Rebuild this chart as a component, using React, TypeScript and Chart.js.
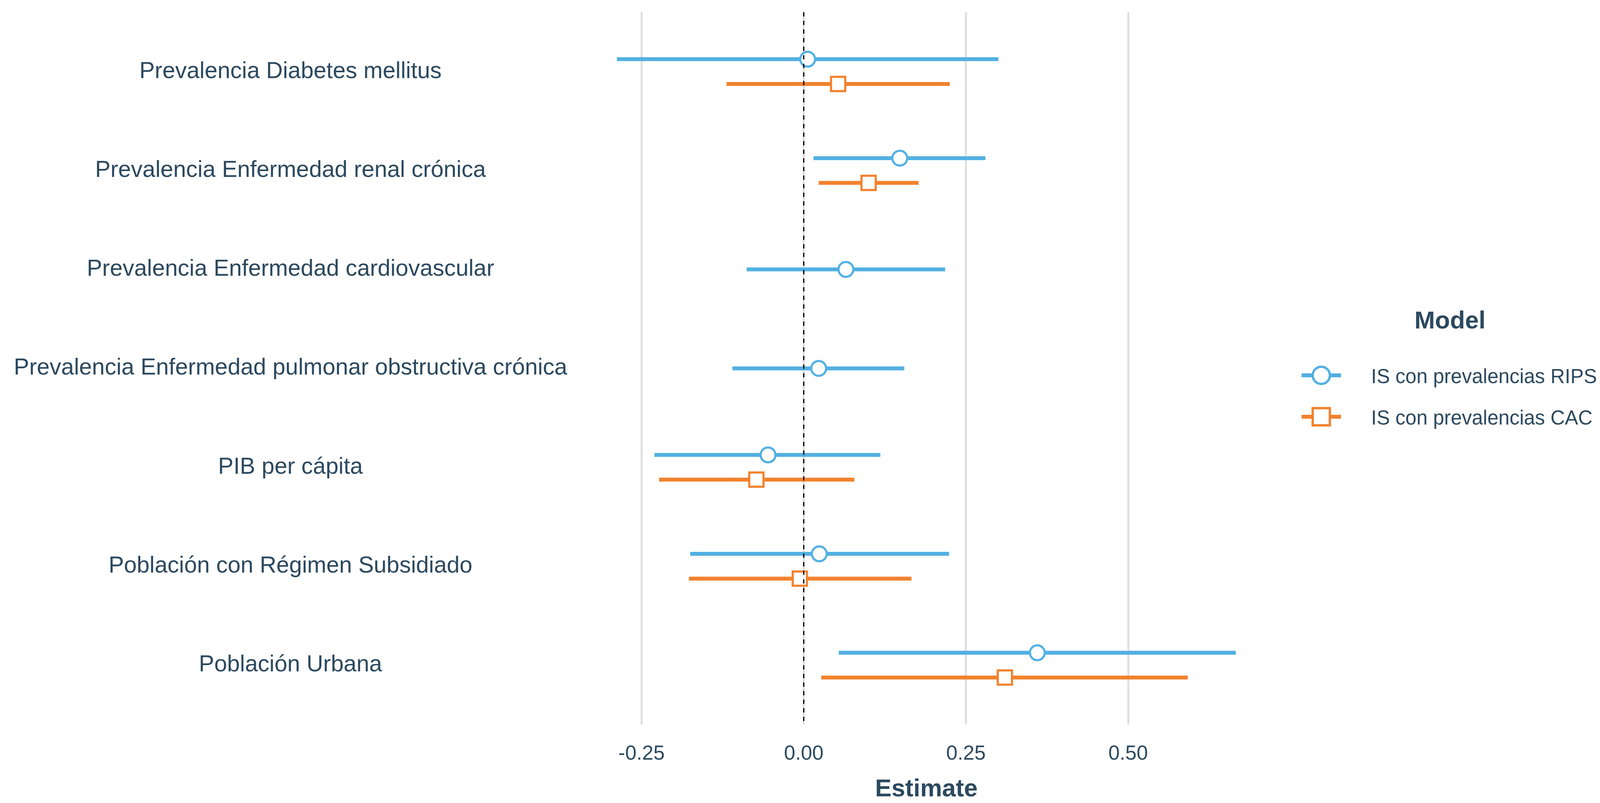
import { useEffect, useRef } from "react";
import { Chart, registerables } from "chart.js";

Chart.register(...registerables);

// ---------- data ----------
const categories = [
  "Prevalencia Diabetes mellitus",
  "Prevalencia Enfermedad renal crónica",
  "Prevalencia Enfermedad cardiovascular",
  "Prevalencia Enfermedad pulmonar obstructiva crónica",
  "PIB per cápita",
  "Población con Régimen Subsidiado",
  "Población Urbana",
];

const seriesNames = ["IS con prevalencias RIPS", "IS con prevalencias CAC"];

const ripsEstimate = [0.006, 0.148, 0.065, 0.023, -0.055, 0.024, 0.36];
const ripsLow = [-0.288, 0.015, -0.088, -0.11, -0.23, -0.175, 0.054];
const ripsHigh = [0.3, 0.28, 0.218, 0.155, 0.118, 0.224, 0.666];

const cacEstimate: (number | null)[] = [0.053, 0.1, null, null, -0.073, -0.006, 0.31];
const cacLow: (number | null)[] = [-0.119, 0.023, null, null, -0.223, -0.177, 0.027];
const cacHigh: (number | null)[] = [0.225, 0.177, null, null, 0.078, 0.166, 0.592];

const xTickValues = [-0.25, 0, 0.25, 0.5];
const xTickLabels = ["-0.25", "0.00", "0.25", "0.50"];
const xAxisTitle = "Estimate";
const legendTitle = "Model";

// ---------- styles ----------
const FONT = "'Liberation Sans', Arial, Helvetica, sans-serif";
const TEXT = "#2C495F";
const BLUE = "#52B0E2";
const ORANGE = "#F2822E";
const DODGE = 0.125;

function yPos(series: number, i: number) {
  const both = cacEstimate[i] != null && ripsEstimate[i] != null;
  if (!both) return i + 1;
  return i + 1 + (series === 0 ? -DODGE : DODGE);
}

const allLows = [...ripsLow, ...cacLow].filter((v) => v != null) as number[];
const allHighs = [...ripsHigh, ...cacHigh].filter((v) => v != null) as number[];
const dMin = Math.min(...allLows);
const dMax = Math.max(...allHighs);
const xMin = dMin - 0.05 * (dMax - dMin);
const xMax = dMax + 0.05 * (dMax - dMin);

const series = [
  { est: ripsEstimate, low: ripsLow, high: ripsHigh, color: BLUE, style: "circle", radius: 19 },
  { est: cacEstimate, low: cacLow, high: cacHigh, color: ORANGE, style: "rect", radius: 25.8 },
];

const errorBarPlugin = {
  id: "errorBars",
  beforeDatasetsDraw(chart: any) {
    const { ctx, scales } = chart;
    const xs = scales.x;
    const ys = scales.y;
    chart.data.datasets.forEach((ds: any) => {
      ctx.save();
      ctx.strokeStyle = ds.borderColor;
      ctx.lineWidth = 10;
      ctx.lineCap = "butt";
      ds.data.forEach((p: any) => {
        const py = ys.getPixelForValue(p.y);
        ctx.beginPath();
        ctx.moveTo(xs.getPixelForValue(p.low), py);
        ctx.lineTo(xs.getPixelForValue(p.high), py);
        ctx.stroke();
      });
      ctx.restore();
    });
  },
};

const zeroLinePlugin = {
  id: "zeroLine",
  afterDatasetsDraw(chart: any) {
    const { ctx, chartArea, scales } = chart;
    const px = scales.x.getPixelForValue(0);
    ctx.save();
    ctx.strokeStyle = "#000000";
    ctx.lineWidth = 3;
    ctx.setLineDash([11, 11]);
    ctx.beginPath();
    ctx.moveTo(px, chartArea.top);
    ctx.lineTo(px, chartArea.bottom);
    ctx.stroke();
    ctx.restore();
  },
};

const legendPlugin = {
  id: "customLegend",
  afterDraw(chart: any) {
    const { ctx } = chart;
    const x0 = 3332;
    const x1 = 3433;
    const cx = (x0 + x1) / 2;
    const textX = 3510;
    const rows = [961, 1067];
    ctx.save();
    ctx.fillStyle = TEXT;
    ctx.font = `bold 63px ${FONT}`;
    ctx.textAlign = "center";
    ctx.textBaseline = "alphabetic";
    ctx.fillText(legendTitle, 3712, 841);
    chart.data.datasets.forEach((ds: any, i: number) => {
      const y = rows[i];
      ctx.strokeStyle = ds.borderColor;
      ctx.lineWidth = 10;
      ctx.setLineDash([]);
      ctx.beginPath();
      ctx.moveTo(x0, y);
      ctx.lineTo(x1, y);
      ctx.stroke();
      ctx.lineWidth = 6;
      ctx.fillStyle = "#ffffff";
      ctx.beginPath();
      if (ds.pointStyle === "circle") {
        ctx.arc(cx, y, 22, 0, Math.PI * 2);
      } else {
        ctx.rect(cx - 22, y - 22, 44, 44);
      }
      ctx.fill();
      ctx.stroke();
      ctx.fillStyle = TEXT;
      ctx.font = `51px ${FONT}`;
      ctx.textAlign = "left";
      ctx.fillText(ds.label, textX, y + 20);
    });
    ctx.restore();
  },
};

export default function App() {
  const ref = useRef<HTMLCanvasElement | null>(null);

  useEffect(() => {
    if (!ref.current) return;
    Chart.defaults.font.family = FONT;
    const datasets = series.map((s, si) => ({
      label: seriesNames[si],
      data: s.est
        .map((v, i) =>
          v == null ? null : { x: v, y: yPos(si, i), low: s.low[i], high: s.high[i] }
        )
        .filter((d) => d != null),
      pointStyle: s.style,
      pointRadius: s.radius,
      pointHoverRadius: s.radius,
      borderWidth: 5.5,
      pointBorderWidth: 5.5,
      borderColor: s.color,
      backgroundColor: "#ffffff",
      showLine: false,
    }));

    const chart = new Chart(ref.current, {
      type: "scatter",
      data: { datasets: datasets as any },
      options: {
        animation: false,
        responsive: false,
        events: [],
        layout: { padding: { top: 20, right: 874, bottom: 0, left: 0 } },
        plugins: {
          legend: { display: false },
          tooltip: { enabled: false },
        },
        scales: {
          x: {
            type: "linear",
            min: xMin,
            max: xMax,
            afterBuildTicks: (s: any) => {
              s.ticks = xTickValues.map((v) => ({ value: v }));
            },
            afterFit: (s: any) => {
              s.height = 201;
              s.paddingLeft = 0;
              s.paddingRight = 0;
            },
            ticks: {
              callback: (_v: any, i: number) => xTickLabels[i],
              font: { size: 52, family: FONT },
              color: TEXT,
              padding: 44,
              maxRotation: 0,
              autoSkip: false,
            },
            grid: { color: "#DEDEDE", lineWidth: 5, drawTicks: false },
            border: { display: false },
            title: {
              display: true,
              text: xAxisTitle,
              color: TEXT,
              font: { size: 63, weight: "bold", family: FONT, lineHeight: 1 },
              padding: { top: 0, bottom: 3 },
            },
          },
          y: {
            type: "linear",
            min: 0.4,
            max: categories.length + 0.6,
            reverse: true,
            afterBuildTicks: (s: any) => {
              s.ticks = categories.map((_c, i) => ({ value: i + 1 }));
            },
            afterFit: (s: any) => {
              s.width = 1500;
              s.paddingTop = 0;
              s.paddingBottom = 0;
            },
            ticks: {
              callback: (_v: any, i: number) => categories[i],
              font: { size: 59, family: FONT },
              color: TEXT,
              crossAlign: "center",
              padding: 48,
              autoSkip: false,
            },
            grid: { display: false, drawTicks: false },
            border: { display: false },
          },
        },
      } as any,
      plugins: [errorBarPlugin, zeroLinePlugin, legendPlugin],
    });
    return () => chart.destroy();
  }, []);

  return (
    <div style={{ position: "fixed", left: 0, top: 0, width: 4117, height: 2056, background: "#ffffff" }}>
      <canvas ref={ref} width={4117} height={2056} style={{ width: 4117, height: 2056, display: "block" }} />
    </div>
  );
}
